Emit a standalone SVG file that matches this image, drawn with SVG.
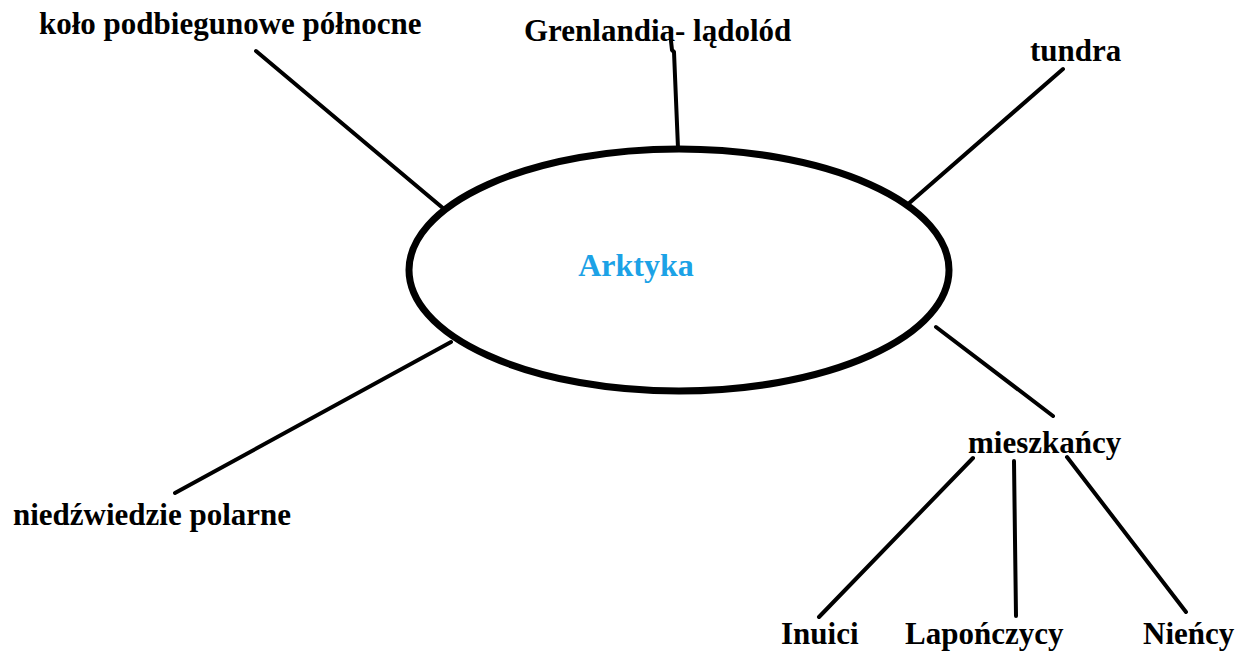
<svg xmlns="http://www.w3.org/2000/svg" width="1248" height="652" viewBox="0 0 1248 652">
<style>
.t{font-family:"Liberation Serif","Times New Roman",serif;font-weight:bold;font-size:31px;fill:#000}
.c{fill:none;stroke:#000;stroke-width:4;stroke-linecap:round;stroke-linejoin:round}
</style>
<rect width="1248" height="652" fill="#fff"/>
<g id="connectors">
<line class="c" x1="256" y1="51" x2="444" y2="209"/>
<polyline class="c" points="671,41 672,50 674,52 678,148"/>
<line class="c" x1="1063" y1="69" x2="907" y2="205"/>
<line class="c" x1="936" y1="327" x2="1053" y2="416"/>
<line class="c" x1="451" y1="342" x2="175" y2="493"/>
<line class="c" x1="973" y1="458" x2="819" y2="617"/>
<polyline class="c" points="1014,461 1015,540 1016,616"/>
<line class="c" x1="1067" y1="457" x2="1186" y2="612"/>
</g>
<g id="arktyka">
<ellipse cx="679" cy="270" rx="270" ry="121" fill="none" stroke="#000" stroke-width="7"/>
<text x="636" y="276" text-anchor="middle" font-family="Liberation Serif, Times New Roman, serif" font-weight="bold" font-size="32" fill="#1ca2e6">Arktyka</text>
</g>
<g id="kolo"><text class="t" x="39" y="34">koło podbiegunowe północne</text></g>
<g id="grenlandia"><text class="t" x="524" y="41">Grenlandia- lądolód</text></g>
<g id="tundra"><text class="t" x="1030" y="61">tundra</text></g>
<g id="niedzwiedzie"><text class="t" x="13" y="525">niedźwiedzie polarne</text></g>
<g id="mieszkancy"><text class="t" x="968" y="453">mieszkańcy</text></g>
<g id="inuici"><text class="t" x="781" y="644">Inuici</text></g>
<g id="laponczycy"><text class="t" x="905" y="644">Lapończycy</text></g>
<g id="niency"><text class="t" x="1143" y="644">Nieńcy</text></g>
</svg>
